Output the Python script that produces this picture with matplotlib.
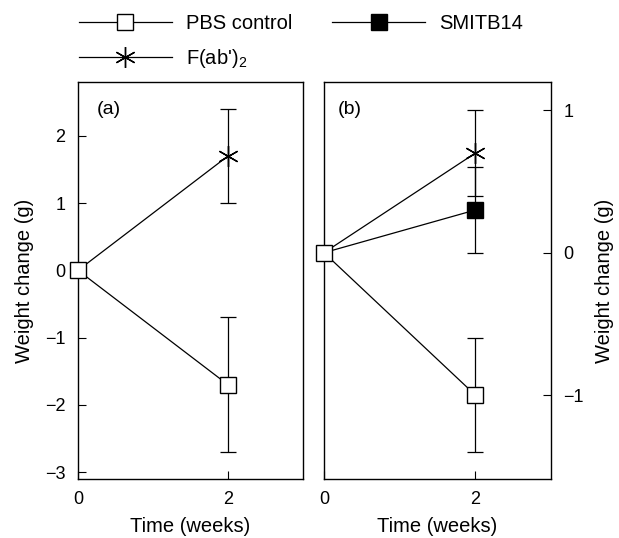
import numpy as np
import matplotlib
matplotlib.use('Agg')
import matplotlib.pyplot as plt
from matplotlib.lines import Line2D

plt.rcParams['font.family'] = ['Liberation Sans', 'DejaVu Sans']
plt.rcParams['mathtext.default'] = 'regular'

# data (weeks, weight change in g)
weeks = [0, 2]
pbs_a = [0, -1.7]
pbs_a_err = [0, 1.0]
fab_a = [0, 1.7]
fab_a_err = [0, 0.7]

pbs_b = [0, -1.0]
pbs_b_err = [0, 0.4]
fab_b = [0, 0.7]
fab_b_err = [0, 0.3]
smi_b = [0, 0.3]
smi_b_err = [0, 0.3]

star = (6, 2, 0)
ms = 11
ms_star = 15
cap = 5.5
lw = 0.9

fig = plt.figure(figsize=(6.19, 5.38), dpi=100)
axa = fig.add_axes([0.126, 0.1097, 0.3635, 0.738])
axb = fig.add_axes([0.5234, 0.1097, 0.3667, 0.738])

def draw(ax, x, y, err, marker, face, size):
    # line from the shared week-0 point, error bar only at week 2
    ax.plot(x, y, color='k', lw=lw, zorder=2)
    ax.errorbar(x[1:], y[1:], yerr=err[1:], fmt='none', ecolor='k',
                elinewidth=lw, capsize=cap, capthick=lw, zorder=2)
    ax.plot(x[1:], y[1:], marker=marker, ms=size, mfc=face, mec='k',
            mew=1.0, ls='none', zorder=3, clip_on=False)

# panel (a)
draw(axa, weeks, fab_a, fab_a_err, star, 'k', ms_star)
draw(axa, weeks, pbs_a, pbs_a_err, 's', 'white', ms)
axa.plot(weeks[0], pbs_a[0], marker='s', ms=ms, mfc='white', mec='k',
         mew=1.0, zorder=4, clip_on=False)
axa.set_xlim(0, 3)
axa.set_ylim(-3.1, 2.8)
axa.set_yticks([-3, -2, -1, 0, 1, 2])
axa.set_yticklabels(['\u22123', '\u22122', '\u22121', '0', '1', '2'])
axa.set_xticks([0, 2])
axa.tick_params(direction='in', length=6, width=0.8, labelsize=13, pad=9)
axa.set_ylabel('Weight change (g)', fontsize=14.5, labelpad=8)
axa.set_xlabel('Time (weeks)', fontsize=14.5, labelpad=6)
axa.text(0.135, 0.93, '(a)', transform=axa.transAxes, fontsize=14,
         ha='center', va='center')

# panel (b)
draw(axb, weeks, fab_b, fab_b_err, star, 'k', ms_star)
draw(axb, weeks, smi_b, smi_b_err, 's', 'k', ms)
draw(axb, weeks, pbs_b, pbs_b_err, 's', 'white', ms)
axb.plot(weeks[0], pbs_b[0], marker='s', ms=ms, mfc='white', mec='k',
         mew=1.0, zorder=4, clip_on=False)
axb.set_xlim(0, 3)
axb.set_ylim(-1.59, 1.2)
axb.set_yticks([-1, 0, 1])
axb.set_yticklabels(['\u22121', '0', '1'])
axb.set_xticks([0, 2])
axb.yaxis.tick_right()
axb.yaxis.set_label_position('right')
axb.tick_params(direction='in', length=6, width=0.8, labelsize=13, pad=9)
axb.set_ylabel('Weight change (g)', fontsize=14.5, labelpad=8)
axb.set_xlabel('Time (weeks)', fontsize=14.5, labelpad=6)
axb.text(0.115, 0.93, '(b)', transform=axb.transAxes, fontsize=14,
         ha='center', va='center')

for ax in (axa, axb):
    for s in ax.spines.values():
        s.set_linewidth(1.0)

h_pbs = Line2D([], [], color='k', lw=lw, marker='s', ms=ms, mfc='white', mec='k')
h_fab = Line2D([], [], color='k', lw=lw, marker=star, ms=ms_star, mfc='k', mec='k')
h_smi = Line2D([], [], color='k', lw=lw, marker='s', ms=ms, mfc='k', mec='k')
fig.legend([h_pbs, h_fab, h_smi], ['PBS control', "F(ab')$_2$", 'SMITB14'],
           ncol=2, loc='upper left', bbox_to_anchor=(0.105, 1.0),
           frameon=False, fontsize=14.5, handlelength=4.6, handletextpad=0.7,
           columnspacing=2.0, labelspacing=0.7, borderaxespad=0.3)

fig.savefig('out.png', dpi=100)
